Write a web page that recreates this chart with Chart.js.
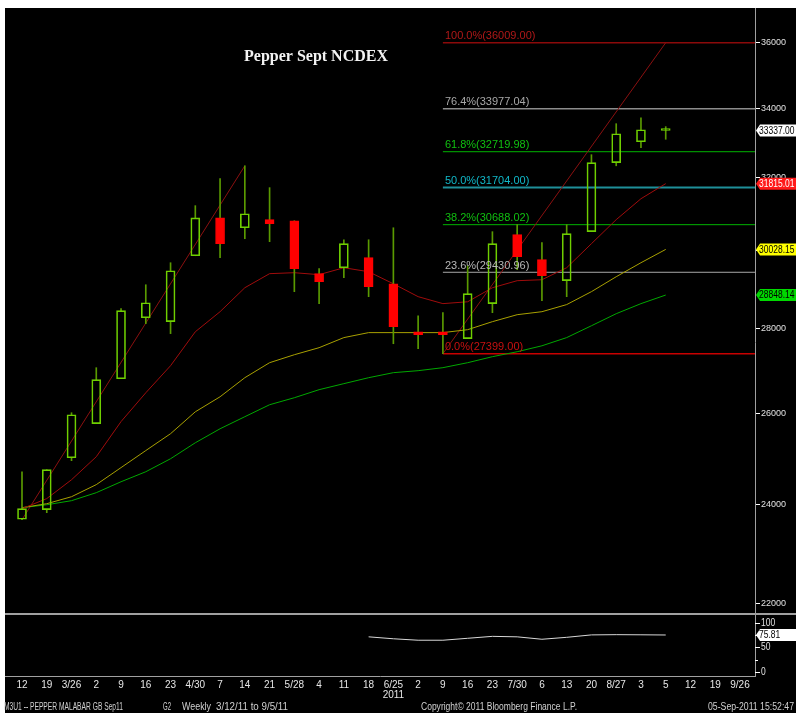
<!DOCTYPE html>
<html><head><meta charset="utf-8">
<script src="https://cdn.jsdelivr.net/npm/chart.js@4.4.1/dist/chart.umd.min.js"></script>
<style>html,body{margin:0;padding:0;background:#fff;}canvas{display:block;}</style>
</head><body>
<canvas id="c" width="801" height="719"></canvas>
<script>
// ---- data ----
const weekLabels = ['12','19','3/26','2','9','16','23','4/30','7','14','21','5/28','4','11','18',['6/25','2011'],'2','9','16','23','7/30','6','13','20','8/27','3','5','12','19','9/26'];
const openP  = [23690,23890,25005,25765,26802,28278,28181,29862,30874,30605,30824,30795,29395,29549,29812,29135,27932,27932,27764,28631,30421,29758,29214,30500,32408,33009,33337];
const highP  = [24699,24745,26014,27064,28505,29110,29679,31205,31954,32318,31703,30795,29524,30284,30284,30605,28328,28404,29599,30500,30688,30208,30688,32635,33536,33712,33449];
const lowP   = [23680,23827,24940,25765,26802,28131,27886,29862,29812,30312,30233,28934,28631,29290,28807,27640,27519,27399,27764,28404,29496,28707,28807,30500,32318,32834,33080];
const closeP = [23910,24745,25968,26780,28455,28653,29470,30874,30180,30985,30712,29524,29189,30180,29059,28055,27860,27860,28883,30180,29837,29344,30446,32408,33240,33359,33337];
const maShort = [23910,24123,24526,25027,25812,26474,27111,27932,28429,29034,29395,29420,29369,29549,29445,29135,28807,28631,28678,29034,29214,29239,29549,30180,30824,31396,31815.01];
const maMid   = [23931,24015,24163,24421,24789,25163,25539,26035,26381,26827,27183,27374,27544,27789,27911,27911,27911,27911,27983,28181,28354,28429,28607,28934,29316,29679,30028.15];
const maLong  = [23931,23993,24079,24249,24483,24699,24983,25336,25650,25923,26197,26359,26546,26687,26827,26946,26993,27064,27183,27327,27446,27590,27789,28080,28379,28631,28848.14];
const indicatorStart = 14;
const indicator = [72,68,65,65,69,73,72,67,71,76,76.5,76.2,75.81];
const fibPct    = ['100.0%','76.4%','61.8%','50.0%','38.2%','23.6%','0.0%'];
const fibLevels = [36009.00,33977.04,32719.98,31704.00,30688.02,29430.96,27399.00];
const fibStart  = 17;
const trendA = [[0,23680],[9,32318]];
const trendB = [[17,27399],[26,36009]];
const priceTicks = [22000,24000,26000,28000,30000,32000,34000,36000];
const indTicks = [100,50,0];
const indMinorTicks = [75,25];
const footerTexts = ['M3U1 -- PEPPER MALABAR GB Sep11','G2','Weekly','3/12/11 to 9/5/11','Copyright\u00a9 2011 Bloomberg Finance L.P.','05-Sep-2011 15:52:47'];

// ---- styles / layout ----
const footerSpans = [[4,123],[163,171],[182,211],[216,288],[421,577],[708,794]];
const fibLineColors  = ['#8b0a0a','#8c8c8c','#00b400','#1e8f99','#00b400','#a8a8a8','#c80000'];
const fibLineWidths  = [1.5,1.5,1,2,1,1,1.5];
const fibTextColors  = ['#b01818','#a8a8a8','#10c010','#10b8c8','#10c010','#b8b8b8','#c81010'];
const SANS = "'Liberation Sans',sans-serif";
const UP = '#6fcf00', WICK = '#5a9a00', DOWN = '#ff0000';
const SQ = 0.85;

const n = openP.length;
const pts = (arr, start=0) => arr.map((v,i)=>({x:i+start,y:v}));
const isUp = openP.map((o,i)=>closeP[i]>=o);

const datasets = [];
datasets.push({type:'bar', label:'body', order:0, grouped:false, barThickness:9, minBarLength:2,
  data: openP.map((o,i)=>({x:i,y:[o,closeP[i]]})),
  backgroundColor: isUp.map(u=>u?'rgba(0,0,0,0)':DOWN),
  borderColor: isUp.map(u=>u?UP:DOWN), borderWidth:1, borderSkipped:false});
datasets.push({type:'bar', label:'upperWick', order:1, grouped:false, barThickness:1,
  data: openP.map((o,i)=>({x:i,y:[Math.max(o,closeP[i]),highP[i]]})), backgroundColor:WICK, borderWidth:0});
datasets.push({type:'bar', label:'lowerWick', order:1, grouped:false, barThickness:1,
  data: openP.map((o,i)=>({x:i,y:[lowP[i],Math.min(o,closeP[i])]})), backgroundColor:WICK, borderWidth:0});
const lineDs = (data, color, width, order, yAxisID='y') => ({type:'line', data, borderColor:color, borderWidth:width,
  pointRadius:0, tension:0, fill:false, order, yAxisID});
datasets.push(lineDs(pts(indicator, indicatorStart), '#d8d8d8', 1, 2, 'y2'));
datasets.push(lineDs(pts(maShort), '#a00c0c', 1, 3));
datasets.push(lineDs(pts(maMid), '#a8a000', 1, 3));
datasets.push(lineDs(pts(maLong), '#00a800', 1, 3));
datasets.push(lineDs(trendA.map(p=>({x:p[0],y:p[1]})), '#8b1010', 1, 4));
datasets.push(lineDs(trendB.map(p=>({x:p[0],y:p[1]})), '#8b1010', 1, 4));
fibLevels.forEach((lv,k)=>{
  datasets.push(lineDs([{x:fibStart,y:lv},{x:weekLabels.length,y:lv}], fibLineColors[k], fibLineWidths[k], 5));
});

const bgPlugin = {
  id:'bg',
  beforeDraw(chart){
    const c = chart.ctx; c.save();
    c.fillStyle='#fff'; c.fillRect(0,0,chart.width,chart.height);
    c.fillStyle='#000'; c.fillRect(5,8,791,705);
    c.restore();
  }
};

function sqText(c, txt, x, y, sq){
  c.save(); c.translate(x, y); c.scale(sq || SQ, 1); c.textAlign = 'left';
  c.fillText(txt, 0, 0); c.restore();
}
function fitText(c, txt, x0, x1, y){
  const w = c.measureText(txt).width;
  sqText(c, txt, x0, y, Math.min(1, (x1 - x0) / w));
}

const overlay = {
  id:'overlay',
  afterDraw(chart){
    const c = chart.ctx, xs = chart.scales.x, ys = chart.scales.y, y2 = chart.scales.y2, ca = chart.chartArea;
    c.save();
    // panel separator
    c.fillStyle = '#a0a0a0'; c.fillRect(5, 613, 791, 2);
    // title
    c.fillStyle = '#f2f2f2'; c.font = "bold 16px 'Liberation Serif',serif";
    c.textAlign = 'center'; c.textBaseline = 'middle';
    c.fillText('Pepper Sept NCDEX', 316, 57);
    // fib labels
    c.font = "11px " + SANS; c.textAlign='left'; c.textBaseline='bottom';
    const fx = xs.getPixelForValue(fibStart) + 2;
    fibLevels.forEach((lv,k)=>{
      c.fillStyle = fibTextColors[k];
      c.fillText(fibPct[k] + '(' + lv.toFixed(2) + ')', fx, ys.getPixelForValue(lv) - 1);
    });
    // indicator axis
    c.strokeStyle = '#ffffff'; c.lineWidth = 1; c.fillStyle = '#e0e0e0';
    c.font = "10px " + SANS; c.textBaseline = 'middle';
    indTicks.forEach(v=>{
      const y = Math.round(y2.getPixelForValue(v)) + 0.5;
      c.beginPath(); c.moveTo(ca.right, y); c.lineTo(ca.right+5, y); c.stroke();
      sqText(c, String(v), ca.right+6, y);
    });
    indMinorTicks.forEach(v=>{
      const y = Math.round(y2.getPixelForValue(v)) + 0.5;
      c.beginPath(); c.moveTo(ca.right, y); c.lineTo(ca.right+3, y); c.stroke();
    });
    // value tags
    c.save(); c.beginPath(); c.rect(ca.right, 0, 796-ca.right, chart.height); c.clip();
    const tag = (val, scale, bgc, fg, txt) => {
      const y = scale.getPixelForValue(val);
      c.fillStyle = bgc; c.beginPath();
      c.moveTo(ca.right+1, y); c.lineTo(ca.right+5, y-6); c.lineTo(800, y-6); c.lineTo(800, y+6); c.lineTo(ca.right+5, y+6);
      c.closePath(); c.fill();
      c.fillStyle = fg; c.textBaseline='middle';
      sqText(c, txt, ca.right+4, y+0.5);
    };
    c.font = "10px " + SANS;
    tag(closeP[n-1], ys, '#ffffff', '#000000', closeP[n-1].toFixed(2));
    tag(maShort[n-1], ys, '#ff1a1a', '#ffffff', maShort[n-1].toFixed(2));
    tag(maMid[n-1], ys, '#ffff00', '#000000', maMid[n-1].toFixed(2));
    tag(maLong[n-1], ys, '#00d800', '#000000', maLong[n-1].toFixed(2));
    tag(indicator[indicator.length-1], y2, '#ffffff', '#000000', indicator[indicator.length-1].toFixed(2));
    c.restore();
    // footer
    c.fillStyle = '#d0d0d0'; c.font = "10px " + SANS; c.textBaseline='middle';
    footerTexts.forEach((t,k)=>fitText(c, t, footerSpans[k][0], footerSpans[k][1], 707));
    c.restore();
  }
};

new Chart(document.getElementById('c'), {
  type:'bar',
  data:{datasets},
  plugins:[bgPlugin, overlay],
  options:{
    responsive:false, animation:false, devicePixelRatio:1,
    layout:{padding:{left:5,right:5,top:8,bottom:0}},
    plugins:{legend:{display:false}, tooltip:{enabled:false}},
    scales:{
      x:{type:'linear', min:-0.6866, max:29.606, offset:false, bounds:'data',
        grid:{display:false, drawTicks:false, offset:false},
        border:{display:true, color:'#a0a0a0', width:1},
        afterBuildTicks:s=>{ s.ticks = weekLabels.map((_,i)=>({value:i})); },
        afterFit:s=>{ s.height = 43; },
        ticks:{autoSkip:false, maxRotation:0, minRotation:0, padding:4, color:'#e6e6e6',
          font:{family:SANS, size:10, lineHeight:1.0},
          callback:(v)=>weekLabels[Math.round(v)]}
      },
      y:{type:'logarithmic', position:'right', min:20641, max:37124.4, bounds:'data',
        grid:{display:true, drawOnChartArea:false, drawTicks:true, tickLength:5, color:'#ffffff'},
        border:{display:true, color:'#a0a0a0', width:1},
        afterBuildTicks:s=>{ s.ticks = priceTicks.map(v=>({value:v})); },
        afterFit:s=>{ s.width = 41; },
        ticks:{autoSkip:false, padding:1, color:'#e0e0e0', font:{family:SANS, size:9},
          callback:(v)=>String(v)}
      },
      y2:{type:'linear', display:false, min:-8.9, max:1371, bounds:'data'}
    }
  }
});
</script>
</body></html>
